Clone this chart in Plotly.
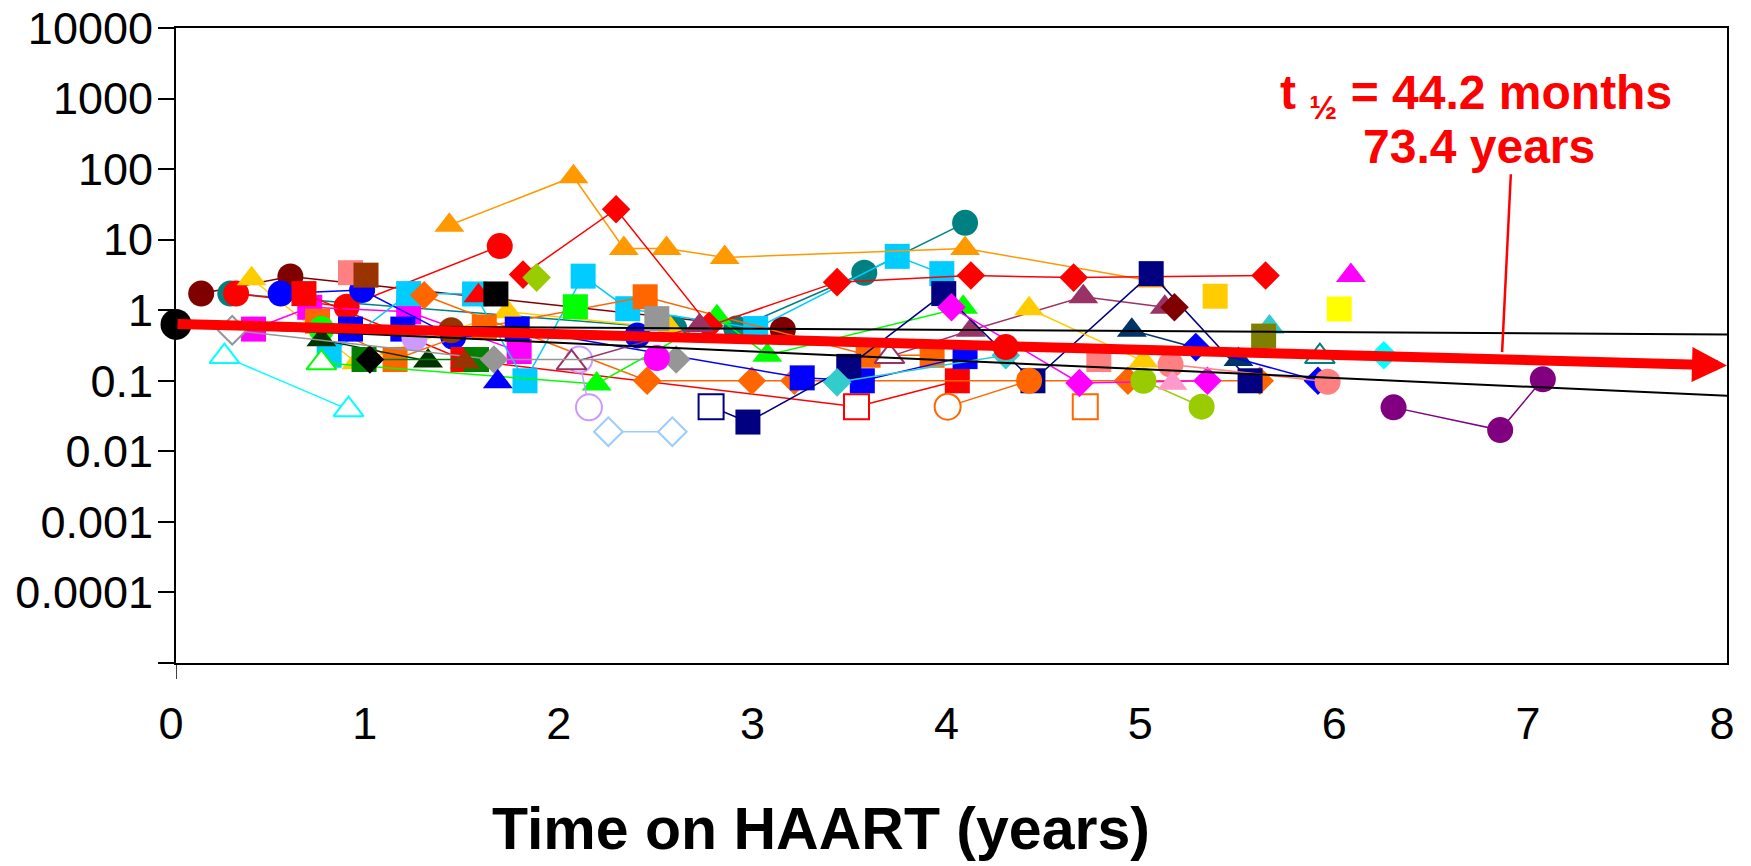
import math
import plotly.graph_objects as go

# ---------------- data (years on HAART, value) ----------------
x_ticks = [0, 1, 2, 3, 4, 5, 6, 7, 8]
x_ticklabels = ["0", "1", "2", "3", "4", "5", "6", "7", "8"]
y_ticks = [1e-5, 1e-4, 1e-3, 1e-2, 1e-1, 1, 10, 100, 1000, 10000]
y_ticklabels = ["", "0.0001", "0.001", "0.01", "0.1", "1", "10", "100", "1000", "10000"]

p01_t = [0.13, 0.59, 3.13];              p01_v = [1.72, 3.0, 0.53]
p02_t = [0.28, 2.57, 2.89, 3.55, 4.07];  p02_v = [1.72, 0.55, 0.55, 3.4, 17.3]
p03_t = [0.31, 0.88, 1.67];              p03_v = [1.72, 1.12, 8.1]
p04_t = [0.39, 0.93, 1.71, 2.55];        p04_v = [2.8, 0.18, 0.95, 0.55]
p05_t = [0.40, 0.69, 1.20, 1.77];        p05_v = [0.54, 1.1, 0.95, 0.26]
p06_t = [0.54, 0.96, 1.43, 2.38];        p06_v = [1.72, 1.93, 0.42, 0.44]
p07_t = [0.66, 1.48, 3.51, 4.03];        p07_v = [1.72, 0.2, 0.043, 0.1]
p08_t = [0.90];                          p08_v = [3.4]
p09_t = [0.98];                          p09_v = [3.14]
p10_t = [0.79, 1.20, 1.54, 1.80, 2.10, 2.33, 2.99, 3.72, 3.95]
p10_v = [0.23, 1.72, 1.7, 0.1, 3.04, 1.05, 0.55, 5.8, 3.3]
p11_t = [1.28, 2.43, 2.97, 3.19, 4.91, 5.59]; p11_v = [1.63, 0.1, 0.1, 0.1, 0.1, 0.1]
p12_t = [0.73, 1.13, 1.59, 2.42, 3.57, 3.90]; p12_v = [0.7, 0.2, 0.58, 1.55, 0.23, 0.23]
p13_t = [0.75];                          p13_v = [0.54]
p14_t = [0.75, 1.30];                    p14_v = [0.38, 0.19]
p15_t = [0.75, 2.17, 2.79, 3.05, 4.06];  p15_v = [0.18, 0.09, 0.81, 0.23, 1.1]
p16_t = [0.97, 1.55];                    p16_v = [0.2, 0.2]
p17_t = [1.0];                           p17_v = [0.2]
p18_t = [2.06];                          p18_v = [1.12]
p19_t = [1.56];                          p19_v = [1.6]
p20_t = [1.65];                          p20_v = [1.7]
p21_t = [0.90, 1.17, 1.76, 3.23, 3.54, 4.07]; p21_v = [0.54, 0.54, 0.54, 0.11, 0.1, 0.22]
p22_t = [1.41, 2.05, 2.31, 2.53, 2.83, 4.07, 5.03]; p22_v = [16, 78, 7.5, 7.5, 5.6, 7.5, 2.6]
p23_t = [1.79, 2.27, 2.75, 3.41, 4.10, 4.63, 5.62]; p23_v = [3.2, 27, 0.6, 2.5, 3.1, 2.9, 3.1]
p24_t = [1.86];                          p24_v = [2.9]
p25_t = [2.08, 2.13];                    p25_v = [0.2, 0.042]
p26_t = [2.23, 2.56];                    p26_v = [0.019, 0.019]
p27_t = [1.23];                          p27_v = [0.4]
p28_t = [2.04, 2.70];                    p28_v = [0.18, 0.6]
p29_t = [3.68, 4.10, 4.68, 5.10];        p29_v = [0.22, 0.52, 1.55, 1.1]
p30_t = [2.76, 2.95, 3.47, 3.96, 4.42, 5.03, 5.54]; p30_v = [0.043, 0.026, 0.16, 1.72, 0.1, 3.3, 0.1]
p31_t = [3.41, 4.28];                    p31_v = [0.095, 0.23]
p32_t = [3.98, 4.40];                    p32_v = [0.043, 0.1]
p33_t = [4.69];                          p33_v = [0.043]
p34_t = [4.0, 4.66, 5.32];               p34_v = [1.1, 0.093, 0.1]
p35_t = [4.40, 4.99];                    p35_v = [1.05, 0.19]
p36_t = [4.28];                          p36_v = [0.3]
p37_t = [4.76];                          p37_v = [0.2]
p38_t = [4.93, 5.48];                    p38_v = [0.52, 0.2]
p39_t = [5.26, 5.89];                    p39_v = [0.3, 0.1]
p40_t = [5.13, 5.94];                    p40_v = [0.17, 0.097]
p41_t = [4.99, 5.29];                    p41_v = [0.1, 0.043]
p42_t = [5.14];                          p42_v = [0.092]
p43_t = [5.64];                          p43_v = [0.58]
p44_t = [5.61];                          p44_v = [0.43]
p45_t = [5.36];                          p45_v = [1.58]
p46_t = [6.0];                           p46_v = [1.04]
p47_t = [6.06];                          p47_v = [3.1]
p48_t = [5.90];                          p48_v = [0.22]
p49_t = [6.23];                          p49_v = [0.23]
p50_t = [6.28, 6.83, 7.05];              p50_v = [0.042, 0.02, 0.105]
p51_t = [5.15];                          p51_v = [1.1]
p52_t = [0.29, 1.64, 2.58];              p52_v = [0.52, 0.2, 0.2]
p54_t = [2.48];                          p54_v = [0.76]
p55_t = [0.25, 0.89];                    p55_v = [0.22, 0.039]
p56_t = [1.42];                          p56_v = [0.52]
p57_t = [1.49];                          p57_v = [0.185]
p58_t = [2.48];                          p58_v = [0.21]
p59_t = [1.66];                          p59_v = [0.097]
baseline_t = [0];                        baseline_v = [0.63]

ci_t = [0, 8]
ci_upper = [0.61, 0.454]
ci_lower = [0.61, 0.0613]
trend_t = [0, 8]
trend_v = [0.64, 0.165]
pointer_t = [6.885, 6.84]
pointer_v = [84.7, 0.255]

halflife_line1 = "<b>t <sub>½</sub> = 44.2 months</b>"
halflife_line2 = "<b>73.4 years</b>"
x_title = "<b>Time on HAART (years)</b>"

# ---------------- styles ----------------
SERIES = [
    (p01_t, p01_v, "#800000", "circle", []),
    (p02_t, p02_v, "#008080", "circle", []),
    (p03_t, p03_v, "#FF0000", "circle", []),
    (p04_t, p04_v, "#FFCC00", "triangle-up", []),
    (p05_t, p05_v, "#FF00FF", "square", []),
    (p06_t, p06_v, "#0000FF", "circle", []),
    (p07_t, p07_v, "#FF0000", "square", [2]),
    (p08_t, p08_v, "#FF8080", "square", []),
    (p09_t, p09_v, "#993300", "square", []),
    (p10_t, p10_v, "#00CCFF", "square", []),
    (p11_t, p11_v, "#FF6600", "diamond", []),
    (p12_t, p12_v, "#FF6600", "square", []),
    (p13_t, p13_v, "#00FF00", "circle", []),
    (p14_t, p14_v, "#003300", "triangle-up", []),
    (p15_t, p15_v, "#00FF00", "triangle-up", [0]),
    (p16_t, p16_v, "#008000", "square", []),
    (p17_t, p17_v, "#000000", "diamond", []),
    (p18_t, p18_v, "#00FF00", "square", []),
    (p19_t, p19_v, "#FF0000", "triangle-up", []),
    (p20_t, p20_v, "#000000", "square", []),
    (p21_t, p21_v, "#0000FF", "square", []),
    (p22_t, p22_v, "#FF9900", "triangle-up", []),
    (p23_t, p23_v, "#FF0000", "diamond", []),
    (p24_t, p24_v, "#99CC00", "diamond", []),
    (p25_t, p25_v, "#CC99FF", "circle", [0, 1]),
    (p26_t, p26_v, "#99CCFF", "diamond", [0, 1]),
    (p27_t, p27_v, "#CC99FF", "circle", []),
    (p28_t, p28_v, "#993366", "triangle-up", [0]),
    (p29_t, p29_v, "#993366", "triangle-up", [0]),
    (p30_t, p30_v, "#000080", "square", [0]),
    (p31_t, p31_v, "#33CCCC", "diamond", []),
    (p32_t, p32_v, "#FF6600", "circle", [0]),
    (p33_t, p33_v, "#FF6600", "square", [0]),
    (p34_t, p34_v, "#FF00FF", "diamond", []),
    (p35_t, p35_v, "#FFCC00", "triangle-up", []),
    (p36_t, p36_v, "#FF0000", "circle", []),
    (p37_t, p37_v, "#FF8080", "square", []),
    (p38_t, p38_v, "#003366", "triangle-up", []),
    (p39_t, p39_v, "#0000FF", "diamond", []),
    (p40_t, p40_v, "#FF8080", "circle", []),
    (p41_t, p41_v, "#99CC00", "circle", []),
    (p42_t, p42_v, "#FF99CC", "triangle-up", []),
    (p43_t, p43_v, "#33CCCC", "triangle-up", []),
    (p44_t, p44_v, "#808000", "square", []),
    (p45_t, p45_v, "#FFCC00", "square", []),
    (p46_t, p46_v, "#FFFF00", "square", []),
    (p47_t, p47_v, "#FF00FF", "triangle-up", []),
    (p48_t, p48_v, "#008080", "triangle-up", [0]),
    (p49_t, p49_v, "#00FFFF", "diamond", []),
    (p50_t, p50_v, "#800080", "circle", []),
    (p51_t, p51_v, "#800000", "diamond", []),
    (p52_t, p52_v, "#969696", "diamond", [0]),
    (p54_t, p54_v, "#969696", "square", []),
    (p55_t, p55_v, "#00FFFF", "triangle-up", [0, 1]),
    (p56_t, p56_v, "#993300", "circle", []),
    (p57_t, p57_v, "#993300", "triangle-up", []),
    (p58_t, p58_v, "#FF00FF", "circle", []),
    (p59_t, p59_v, "#0000FF", "triangle-up", []),
]
SIZES = {"circle": 26, "square": 25, "diamond": 22, "triangle-up": 26}
FONT = "Liberation Sans, Arial"

fig = go.Figure()
for t, v, color, sym, open_idx in SERIES:
    n = len(t)
    fills = ["white" if i in open_idx else color for i in range(n)]
    lws = [2 if i in open_idx else 0 for i in range(n)]
    fig.add_trace(go.Scatter(
        x=t, y=v, mode="lines+markers",
        line=dict(color=color, width=1.5),
        marker=dict(symbol=sym, size=SIZES[sym], color=fills,
                    line=dict(color=color, width=lws)),
        showlegend=False, hoverinfo="skip", cliponaxis=False,
    ))

fig.add_trace(go.Scatter(x=baseline_t, y=baseline_v, mode="markers",
                         marker=dict(symbol="circle", size=31, color="black"),
                         showlegend=False, cliponaxis=False))
fig.add_trace(go.Scatter(x=ci_t, y=ci_upper, mode="lines",
                         line=dict(color="black", width=2), showlegend=False))
fig.add_trace(go.Scatter(x=ci_t, y=ci_lower, mode="lines",
                         line=dict(color="black", width=2), showlegend=False))
fig.add_trace(go.Scatter(x=pointer_t, y=pointer_v, mode="lines",
                         line=dict(color="red", width=2.5), showlegend=False))

# trend arrow (log axis -> annotation coords in log10)
fig.add_annotation(x=trend_t[1], y=math.log10(trend_v[1]),
                   ax=trend_t[0], ay=math.log10(trend_v[0]),
                   xref="x", yref="y", axref="x", ayref="y",
                   text="", showarrow=True, arrowhead=2, arrowsize=0.7,
                   arrowwidth=10, arrowcolor="#FF0000", standoff=0, startstandoff=0)

fig.add_annotation(xref="paper", yref="paper", x=0.838, y=0.893,
                   xanchor="center", yanchor="middle", showarrow=False,
                   text=halflife_line1,
                   font=dict(family=FONT, size=48, color="#FF0000"))
fig.add_annotation(xref="paper", yref="paper", x=0.840, y=0.813,
                   xanchor="center", yanchor="middle", showarrow=False,
                   text=halflife_line2,
                   font=dict(family=FONT, size=48, color="#FF0000"))

fig.add_annotation(xref="paper", yref="paper", x=0.416, y=-0.262,
                   xanchor="center", yanchor="middle", showarrow=False,
                   text=x_title,
                   font=dict(family=FONT, size=59, color="black"))

# short tick below the origin
fig.add_shape(type="line", xref="x", yref="paper", x0=0, x1=0, y0=0, y1=-0.025,
              line=dict(color="black", width=1.5))

fig.update_layout(
    width=1751, height=866,
    margin=dict(l=176, r=24, t=28, b=203, autoexpand=False),
    paper_bgcolor="white", plot_bgcolor="white",
    font=dict(family=FONT, color="black"),
    showlegend=False,
)
fig.update_xaxes(range=[0, 8], tickvals=x_ticks, ticktext=x_ticklabels,
                 showline=True, linecolor="black", linewidth=2, mirror=True,
                 ticks="", showgrid=False, zeroline=False, automargin=False,
                 tickfont=dict(size=45), ticklabelstandoff=20, ticklabelshift=-5)
fig.update_yaxes(type="log", range=[-5, 4], tickvals=y_ticks, ticktext=y_ticklabels,
                 showline=True, linecolor="black", linewidth=2, mirror=True,
                 ticks="outside", ticklen=16, tickwidth=1.5, tickcolor="black",
                 showgrid=False, zeroline=False, automargin=False,
                 tickfont=dict(size=45), ticklabelstandoff=-4)

fig.write_html("out.html")
